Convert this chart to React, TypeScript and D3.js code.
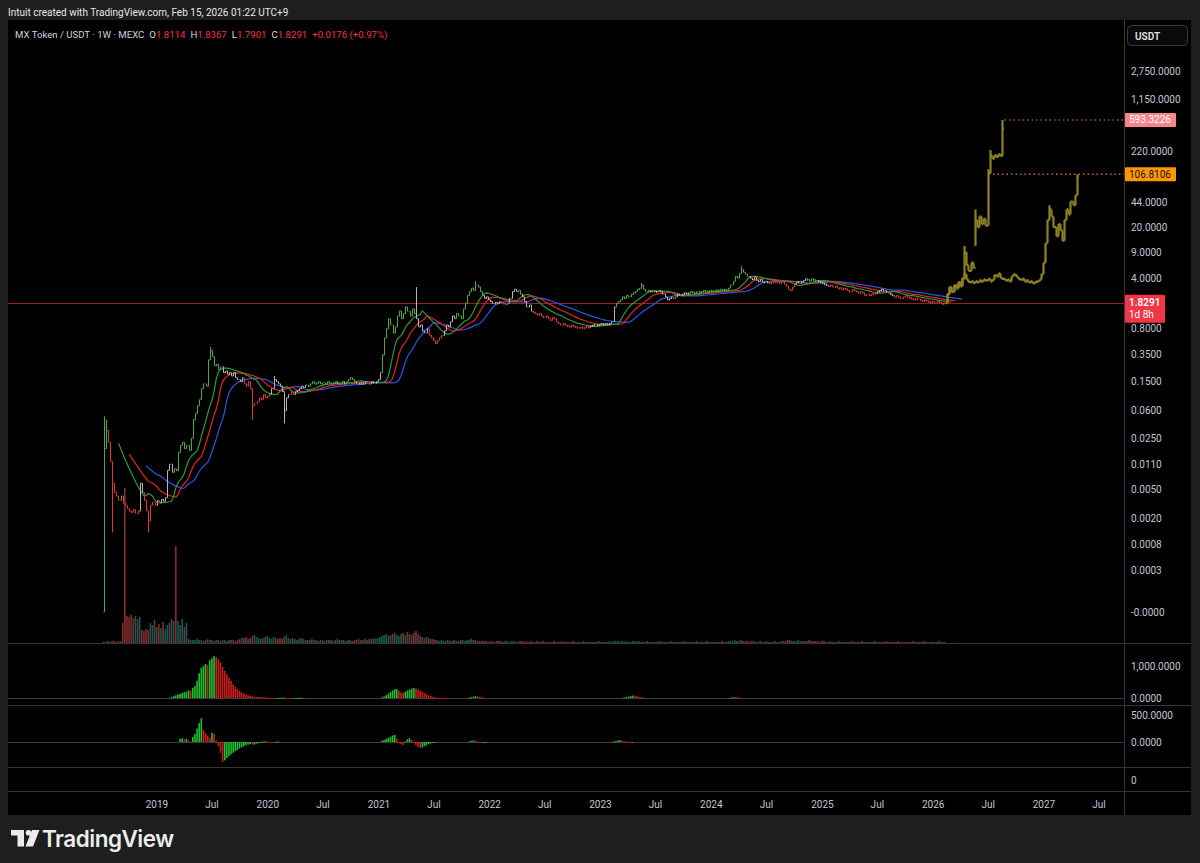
import React from "react";
import * as d3 from "d3";

// ---------- DATA ----------
const lastBarDate = "2026-02-09";
const firstOpen = 0.0001;
// weekly closes, 2018-07-09 .. 2026-02-09
const closes = [
  0.018, 0.032, 0.022, 0.012, 0.006, 0.0045, 0.004, 0.0035, 0.004, 0.0032,
  0.003, 0.0027, 0.0025, 0.0024, 0.0026, 0.0023, 0.0025, 0.006, 0.0045, 0.0035,
  0.0025, 0.0018, 0.003, 0.0033, 0.003, 0.0035, 0.0032, 0.0036, 0.0034, 0.0038,
  0.009, 0.011, 0.0085, 0.0095, 0.009, 0.016, 0.02, 0.022, 0.018, 0.02,
  0.017, 0.025, 0.045, 0.055, 0.07, 0.085, 0.12, 0.14, 0.13, 0.3,
  0.4, 0.33, 0.25, 0.26, 0.22, 0.24, 0.2, 0.21, 0.19, 0.2,
  0.18, 0.2, 0.17, 0.16, 0.15, 0.17, 0.14, 0.13, 0.15, 0.12,
  0.07, 0.075, 0.08, 0.09, 0.085, 0.1, 0.09, 0.095, 0.1, 0.12,
  0.16, 0.15, 0.14, 0.13, 0.11, 0.06, 0.09, 0.1, 0.11, 0.1,
  0.11, 0.115, 0.12, 0.13, 0.125, 0.135, 0.13, 0.14, 0.15, 0.14,
  0.145, 0.15, 0.14, 0.145, 0.14, 0.15, 0.145, 0.14, 0.145, 0.15,
  0.14, 0.145, 0.15, 0.14, 0.15, 0.16, 0.17, 0.16, 0.15, 0.145,
  0.14, 0.145, 0.14, 0.15, 0.145, 0.14, 0.15, 0.145, 0.15, 0.16,
  0.2, 0.35, 0.6, 0.8, 1.1, 0.9, 0.7, 0.85, 1.2, 1.4,
  1.1, 1.3, 1.6, 1.4, 1.2, 1.5, 1.3, 1.1, 0.85, 0.9,
  0.75, 0.7, 0.8, 0.65, 0.6, 0.55, 0.5, 0.55, 0.6, 0.65,
  0.75, 0.9, 0.85, 1.0, 1.2, 1.1, 1.3, 1.2, 1.1, 1.5,
  1.8, 2.3, 2.6, 2.9, 2.7, 3.2, 3.0, 2.6, 2.3, 2.1,
  2.2, 2.0, 1.9, 1.8, 1.85, 1.8, 1.9, 1.85, 1.8, 1.75,
  1.8, 2.1, 2.6, 2.8, 2.6, 2.7, 2.4, 2.2, 1.9, 1.6,
  1.7, 1.4, 1.35, 1.3, 1.25, 1.3, 1.2, 1.15, 1.2, 1.1,
  1.05, 1.15, 1.1, 1.0, 0.95, 0.9, 0.95, 0.9, 0.88, 0.85,
  0.9, 0.87, 0.85, 0.83, 0.85, 0.82, 0.84, 0.86, 0.85, 0.88,
  0.9, 0.92, 0.9, 0.93, 0.95, 0.92, 0.95, 0.93, 0.95, 1.0,
  1.6, 1.8, 1.9, 2.0, 2.2, 2.1, 2.3, 2.2, 2.4, 2.5,
  2.6, 2.8, 2.9, 3.2, 2.8, 2.6, 2.7, 2.6, 2.7, 2.65,
  2.6, 2.7, 2.6, 2.4, 2.2, 2.0, 2.1, 2.2, 2.1, 2.2,
  2.4, 2.3, 2.4, 2.5, 2.45, 2.5, 2.6, 2.55, 2.5, 2.6,
  2.55, 2.6, 2.7, 2.65, 2.6, 2.7, 2.65, 2.7, 2.75, 2.7,
  2.8, 2.75, 2.8, 2.7, 2.9, 3.2, 3.6, 4.2, 4.0, 4.6,
  5.2, 4.8, 4.5, 4.2, 4.0, 3.8, 4.1, 3.7, 3.6, 3.8,
  3.5, 3.6, 3.5, 3.4, 3.5, 3.6, 3.5, 3.6, 3.4, 3.5,
  3.3, 3.1, 2.8, 2.7, 3.0, 3.3, 3.5, 3.6, 3.5, 3.7,
  3.9, 3.8, 3.7, 3.9, 3.8, 3.7, 3.6, 3.5, 3.4, 3.3,
  3.2, 3.1, 3.2, 3.0, 3.1, 2.9, 2.95, 2.8, 2.9, 2.85,
  2.7, 2.6, 2.8, 2.7, 2.6, 2.5, 2.6, 2.5, 2.3, 2.4,
  2.3, 2.4, 2.5, 2.45, 2.6, 2.7, 2.8, 2.7, 2.6, 2.5,
  2.4, 2.3, 2.2, 2.3, 2.2, 2.1, 2.2, 2.3, 2.2, 2.15,
  2.1, 2.0, 2.1, 2.05, 2.0, 1.95, 2.0, 1.95, 1.9, 1.85,
  1.9, 1.85, 1.9, 1.85, 1.8, 1.8114, 1.8291,
];
const wickHigh: Record<number, number> = {
  0: 0.05, 1: 0.045, 50: 0.45, 80: 0.18, 147: 3.0, 175: 3.6, 253: 3.4, 300: 5.8, 396: 1.8367,
};
const wickLow: Record<number, number> = {
  0: 0.0001, 4: 0.0012, 21: 0.0012, 70: 0.045, 85: 0.04, 396: 1.7901,
};
const volumes = [
  1, 1, 2, 1, 2, 2, 1, 2, 2, 20,
  155, 27, 26, 28, 25, 27, 24, 26, 13, 12,
  14, 13, 20, 18, 23, 16, 19, 15, 21, 14,
  18, 20, 24, 22, 97, 22, 18, 24, 16, 20,
  4, 3, 3, 3, 4, 3, 3, 2, 3, 4,
  3, 3, 2, 3, 3, 2, 3, 3, 2, 3,
  3, 3, 2, 3, 4, 5, 5, 6, 4, 5,
  7, 8, 6, 5, 4, 5, 6, 7, 5, 4,
  6, 5, 4, 5, 4, 6, 8, 5, 4, 5,
  4, 3, 4, 5, 4, 3, 3, 3, 4, 3,
  3, 2, 3, 3, 2, 3, 3, 3, 2, 3,
  4, 3, 3, 3, 2, 3, 3, 2, 3, 3,
  4, 3, 3, 4, 3, 4, 4, 5, 4, 5,
  6, 7, 8, 9, 7, 8, 9, 10, 8, 7,
  9, 10, 8, 11, 9, 8, 10, 12, 9, 7,
  6, 5, 6, 5, 4, 4, 3, 3, 2, 3,
  2, 2, 3, 2, 2, 3, 2, 2, 3, 3,
  2, 3, 3, 4, 3, 3, 2, 2, 2, 2,
  2, 1, 2, 2, 1, 2, 2, 2, 1, 2,
  2, 1, 2, 2, 1, 1, 2, 2, 1, 2,
  1, 2, 1, 1, 2, 1, 1, 2, 1, 1,
  1, 1, 2, 1, 1, 1, 2, 1, 1, 1,
  1, 2, 1, 1, 1, 1, 2, 1, 1, 1,
  1, 1, 1, 2, 1, 1, 1, 1, 2, 1,
  2, 2, 2, 1, 2, 1, 2, 1, 1, 2,
  2, 1, 2, 1, 1, 1, 2, 1, 1, 1,
  1, 1, 2, 1, 1, 1, 1, 2, 1, 1,
  1, 1, 1, 2, 1, 1, 1, 1, 1, 2,
  1, 1, 1, 1, 2, 1, 1, 1, 1, 1,
  1, 2, 1, 1, 2, 2, 2, 3, 2, 2,
  3, 2, 2, 2, 1, 2, 2, 1, 1, 2,
  1, 1, 2, 1, 1, 1, 2, 1, 1, 2,
  2, 2, 3, 3, 2, 2, 2, 3, 2, 2,
  2, 2, 3, 2, 2, 2, 2, 1, 2, 2,
  1, 1, 2, 1, 1, 1, 2, 1, 1, 1,
  1, 1, 2, 1, 1, 1, 1, 2, 1, 1,
  1, 1, 1, 2, 1, 1, 1, 1, 2, 1,
  1, 1, 1, 1, 2, 1, 1, 1, 1, 1,
  1, 2, 1, 1, 1, 1, 2, 1, 1, 1,
  1, 1, 1, 2, 1, 1, 1,
];

// projected paths (drawn fractal), weekly from 2026-02-16
const projStartDate = "2026-02-16";
const projACloses = [2.4, 3.0, 2.6, 3.2, 2.9, 3.5, 3.1, 4.0, 9.0, 6.0, 5.0, 6.5, 5.5, 25, 20, 28, 22, 26, 21, 110, 190, 175, 195, 185, 200, 190, 450];
const projAHigh: Record<number, number> = { 8: 11, 13: 35, 19: 125, 20: 230, 26: 593.3226 };
const projALow: Record<number, number> = { 8: 3.8, 13: 11 };
const projBCloses = [
  2.4, 3.0, 2.6, 3.2, 2.9, 3.5, 3.1, 4.0, 4.5, 3.8,
  3.5, 3.6, 3.4, 3.6, 3.5, 3.7, 3.6, 3.8, 3.7, 3.9,
  3.6, 3.8, 4.4, 4.2, 4.6, 4.0, 3.9, 3.7, 3.8, 3.6,
  4.2, 4.5, 4.3, 4.0, 3.8, 3.9, 3.6, 3.7, 3.5, 3.6,
  3.4, 3.5, 3.6, 3.8, 4.5, 6.5, 12, 25, 35, 28,
  20, 15, 22, 18, 13, 25, 35, 30, 45, 40,
  55, 100,
];
const projBHigh: Record<number, number> = { 48: 40, 61: 106.8106 };

// oscillator panes (sparse segments by bar index)
const osc1Segments = [
  { start: 32, values: [30, 60, 90, 110, 140, 160, 190, 200, 250, 240, 330, 390, 560, 800, 970, 1030, 1100, 1060, 1220, 1280, 1350, 1320, 1250, 1150, 1000, 880, 760, 650, 560, 440, 360, 290, 230, 180, 140, 110, 90, 70, 55, 45, 40, 35, 30, 25, 20, 15, 10, -10, -15, -20, -10, 5, 10, 15, -5, -10, -15, -20, -15, -10, 5, 10, 8, 5] },
  { start: 131, values: [20, 50, 90, 140, 190, 240, 280, 290, 230, 180, 170, 200, 240, 270, 300, 320, 310, 280, 240, 200, 160, 120, 90, 60, 40, 25, 15, 10, 5, -5, -10] },
  { start: 172, values: [10, 25, 45, 60, 55, 40, 25, 10] },
  { start: 245, values: [10, 25, 45, 65, 80, 75, 60, 40, 25, 10] },
  { start: 295, values: [10, 20, 30, 25, 15, 5] },
];
const osc2Segments = [
  { start: 36, values: [60, 70, 50, 60, 30, -10, 90, 150, 250, 350, 440, 220, 170, 120, 80, 170, 150, 30, -80, -200, -370, -340, -300, -260, -230, -200, -170, -150, -120, -100, -80, -60, -50, -40, -50, -45, -30, -20, -10, 10, 15, 5, -5, -10, -15, -5, 10, 5] },
  { start: 131, values: [20, 40, 60, 80, 100, 120, 130, 60, -10, -40, -55, 10, 50, 70, 40, -20, -60, -90, -110, -100, -80, -60, -40, -25, -15, -5] },
  { start: 172, values: [10, 20, 30, 25, 10, -10, -20, -15, -5] },
  { start: 240, values: [10, 20, 30, 35, 25, 15, 5, -5, -10, -5] },
];

const priceTickValues = [2750, 1150, 220, 44, 20, 9, 4, 0.8, 0.35, 0.15, 0.06, 0.025, 0.011, 0.005, 0.002, 0.0008, 0.0003, 0.0001];
const priceTickLabels = ["2,750.0000", "1,150.0000", "220.0000", "44.0000", "20.0000", "9.0000", "4.0000", "0.8000", "0.3500", "0.1500", "0.0600", "0.0250", "0.0110", "0.0050", "0.0020", "0.0008", "0.0003", "-0.0000"];
const timeTickDates = ["2019-01-01", "2019-07-01", "2020-01-01", "2020-07-01", "2021-01-01", "2021-07-01", "2022-01-01", "2022-07-01", "2023-01-01", "2023-07-01", "2024-01-01", "2024-07-01", "2025-01-01", "2025-07-01", "2026-01-01", "2026-07-01", "2027-01-01", "2027-07-01"];
const timeTickLabels = ["2019", "Jul", "2020", "Jul", "2021", "Jul", "2022", "Jul", "2023", "Jul", "2024", "Jul", "2025", "Jul", "2026", "Jul", "2027", "Jul"];

const lastPrice = 1.8291;
const targetA = 593.3226;
const targetB = 106.8106;

// ---------- LAYOUT ----------
const FONT = "Roboto, 'Open Sans', 'DejaVu Sans', sans-serif";
const L = 8, R = 1191, T = 20, B = 815;
const AX = 1124; // price axis separator
const P1B = 643, P2B = 705, P3B = 767, P4B = 791;
const DAY = 86400000;

function smma(src: number[], n: number): (number | null)[] {
  const out: (number | null)[] = [];
  let prev = 0;
  for (let i = 0; i < src.length; i++) {
    if (i < n - 1) out.push(null);
    else if (i === n - 1) {
      prev = d3.mean(src.slice(0, n)) as number;
      out.push(prev);
    } else {
      prev = (prev * (n - 1) + src[i]) / n;
      out.push(prev);
    }
  }
  return out;
}

function expand(segs: { start: number; values: number[] }[]) {
  const m = new Map<number, number>();
  segs.forEach((s) => s.values.forEach((v, k) => m.set(s.start + k, v)));
  return m;
}

export default function App() {
  const n = closes.length;
  const lastT = Date.parse(lastBarDate + "T00:00:00Z");
  const dateAt = (i: number) => new Date(lastT - (n - 1 - i) * 7 * DAY);
  const opens = closes.map((c, i) => (i === 0 ? firstOpen : closes[i - 1]));
  const highs = closes.map((c, i) => wickHigh[i] ?? Math.max(c, opens[i]));
  const lows = closes.map((c, i) => wickLow[i] ?? Math.min(c, opens[i]));

  const x = d3.scaleUtc().domain([Date.UTC(2019, 0, 1), Date.UTC(2027, 0, 1)]).range([157, 1044]);
  const y = d3.scaleLog().domain([0.0001, 0.0003, 0.0008, 0.002, 4, 2750]).range([612, 570, 544, 518, 278, 71.5]);
  const vol = d3.scaleLinear().domain([0, 200]).range([P1B, P1B - 200]);
  const o1 = d3.scaleLinear().domain([0, 1000]).range([698, 667]);
  const o2 = d3.scaleLinear().domain([0, 500]).range([742, 715]);

  const xc = (d: Date) => Math.round(x(d)) + 0.5;

  // alligator
  const med = highs.map((h, i) => (h + lows[i]) / 2);
  const jaw = smma(med, 13);
  const teeth = smma(med, 8);
  const lips = smma(med, 5);
  const shifted = (arr: (number | null)[], off: number) =>
    arr.map((v, i) => ({ v, d: new Date(lastT - (n - 1 - i - off) * 7 * DAY) })).filter((p) => p.v != null) as { v: number; d: Date }[];
  const line = d3.line<{ v: number; d: Date }>().x((p) => x(p.d)).y((p) => y(p.v)).curve(d3.curveLinear);

  const lipsAt = (i: number) => (i - 3 >= 0 ? lips[i - 3] : null);
  const teethAt = (i: number) => (i - 5 >= 0 ? teeth[i - 5] : null);

  const barColor = (i: number) => {
    const c = closes[i], o = opens[i];
    const lp = lipsAt(i), tt = teethAt(i);
    if (lp == null || tt == null) return c >= o ? "#4fa845" : "#d83a34";
    if (c > lp && lp >= tt) return "#4fa845";
    if (c < lp && lp < tt) return "#d83a34";
    return "#b4b4b4";
  };

  const barPath = (cx: number, o: number, h: number, l: number, c: number, t = 1) => {
    const yh = y(h), yl = Math.max(y(l), y(h) + 2);
    return `M${cx},${yh}V${yl}M${cx - t},${y(o)}H${cx}M${cx},${y(c)}H${cx + t}`;
  };

  const projStart = Date.parse(projStartDate + "T00:00:00Z");
  const projBars = (cl: number[], hi: Record<number, number>, lo: Record<number, number>) =>
    cl.map((c, j) => {
      const o = j === 0 ? lastPrice : cl[j - 1];
      const h = hi[j] ?? Math.max(o, c);
      const l = lo[j] ?? Math.min(o, c);
      const d = new Date(projStart + j * 7 * DAY);
      return { o, h, l, c, d };
    });
  const pA = projBars(projACloses, projAHigh, projALow);
  const pB = projBars(projBCloses, projBHigh, {});

  const m1 = expand(osc1Segments);
  const m2 = expand(osc2Segments);
  const oscBars = (m: Map<number, number>, sc: d3.ScaleLinear<number, number>) =>
    Array.from(m.entries()).map(([i, v]) => {
      const prev = m.get(i - 1) ?? 0;
      const cx = x(dateAt(i));
      const y0 = sc(0), y1 = sc(v);
      return (
        <rect key={i} x={cx - 0.8} width={1.6} y={Math.min(y0, y1)} height={Math.max(1, Math.abs(y1 - y0))}
          fill={v >= prev ? "#1fbf2f" : "#c81e1e"} />
      );
    });

  const axisText = { fontFamily: FONT, fontSize: 10, fill: "#c3c6ce" } as const;
  const yLast = Math.round(y(lastPrice)) + 0.5;

  return (
    <svg width={1200} height={863} style={{ position: "fixed", left: 0, top: 0, background: "#1e1e1e" }}>
      <defs>
        <clipPath id="mainClip"><rect x={L} y={T} width={AX - L} height={P1B - T} /></clipPath>
        <clipPath id="paneClip"><rect x={L} y={P1B} width={AX - L} height={P4B - P1B} /></clipPath>
      </defs>
      <rect x={0} y={0} width={1200} height={863} fill="#1e1e1e" />
      <text x={8} y={16} fontFamily={FONT} fontSize={10} fill="#e6e6e6">
        Intuit created with TradingView.com, Feb 15, 2026 01:22 UTC+9
      </text>

      {/* chart frame */}
      <rect x={L} y={T} width={R - L} height={B - T} fill="#000" />

      {/* main pane */}
      <g clipPath="url(#mainClip)">
        {/* volume */}
        {volumes.map((v, i) => {
          const cx = x(dateAt(i));
          return (
            <rect key={"v" + i} x={cx - 0.8} width={1.6} y={vol(v)} height={P1B - vol(v)}
              fill={closes[i] >= opens[i] ? "rgba(38,166,154,0.55)" : "rgba(239,83,80,0.55)"} />
          );
        })}
        {/* last price line */}
        <line x1={L} x2={AX} y1={yLast} y2={yLast} stroke="#9c1f1f" strokeWidth={1} />
        {/* alligator */}
        <path d={line(shifted(jaw, 8)) || ""} fill="none" stroke="#2f55e8" strokeWidth={1.2} />
        <path d={line(shifted(teeth, 5)) || ""} fill="none" stroke="#e0281f" strokeWidth={1.2} />
        <path d={line(shifted(lips, 3)) || ""} fill="none" stroke="#2f9a35" strokeWidth={1.2} />
        {/* bars */}
        {closes.map((c, i) => (
          <path key={"b" + i} d={barPath(xc(dateAt(i)), opens[i], highs[i], lows[i], c)} stroke={barColor(i)} strokeWidth={1} fill="none" />
        ))}
        {/* projections */}
        {[...pB, ...pA].map((b, k) => (
          <path key={"p" + k} d={barPath(xc(b.d), b.o, b.h, b.l, b.c, 1.5)} stroke="#8c8124" strokeWidth={2.2} fill="none" />
        ))}
        {/* target dotted lines */}
        <line x1={xc(pA[pA.length - 1].d) + 2} x2={AX} y1={y(targetA)} y2={y(targetA)} stroke="#e08a2c" strokeWidth={1.2} strokeDasharray="1.5,3" />
        <line x1={xc(pA[19].d)} x2={AX} y1={y(targetB)} y2={y(targetB)} stroke="#e08a2c" strokeWidth={1.2} strokeDasharray="1.5,3" />
      </g>

      {/* lower panes */}
      <g clipPath="url(#paneClip)">
        <line x1={L} x2={AX} y1={o1(0) + 0.5} y2={o1(0) + 0.5} stroke="#3c3c3c" />
        <line x1={L} x2={AX} y1={o2(0) + 0.5} y2={o2(0) + 0.5} stroke="#3c3c3c" />
        {oscBars(m1, o1)}
        {oscBars(m2, o2)}
      </g>

      {/* separators */}
      {[P1B, P2B, P3B, P4B].map((yy) => (
        <line key={yy} x1={L} x2={R} y1={yy + 0.5} y2={yy + 0.5} stroke="#363636" />
      ))}
      <line x1={AX + 0.5} x2={AX + 0.5} y1={T} y2={B} stroke="#363636" />

      {/* legend */}
      <text x={15} y={38} fontFamily={FONT} fontSize={9.6} fill="#d1d4dc">
        MX Token / USDT · 1W · MEXC
        <tspan dx={5}>O</tspan><tspan fill="#f23645">1.8114</tspan>
        <tspan dx={5}>H</tspan><tspan fill="#f23645">1.8367</tspan>
        <tspan dx={5}>L</tspan><tspan fill="#f23645">1.7901</tspan>
        <tspan dx={5}>C</tspan><tspan fill="#f23645">1.8291</tspan>
        <tspan dx={5} fill="#f23645">+0.0176 (+0.97%)</tspan>
      </text>

      {/* price axis */}
      {priceTickValues.map((v, k) => (
        <text key={"pt" + k} x={1131} y={y(v)} dy="0.35em" {...axisText}>{priceTickLabels[k]}</text>
      ))}
      <text x={1131} y={o1(1000) - 1} dy="0.35em" {...axisText}>1,000.0000</text>
      <text x={1131} y={o1(0)} dy="0.35em" {...axisText}>0.0000</text>
      <text x={1131} y={o2(500)} dy="0.35em" {...axisText}>500.0000</text>
      <text x={1131} y={o2(0)} dy="0.35em" {...axisText}>0.0000</text>
      <text x={1131} y={(P3B + P4B) / 2 + 1} dy="0.35em" {...axisText}>0</text>

      {/* USDT box */}
      <rect x={1127.5} y={25.5} width={60} height={20} rx={4} fill="#0a0a0a" stroke="#3a3a3a" />
      <text x={1135} y={36} dy="0.35em" fontFamily={FONT} fontSize={10} fontWeight={600} fill="#e0e3eb">USDT</text>

      {/* price labels */}
      <rect x={1125} y={y(targetA) - 7} width={51} height={14} rx={1} fill="#f7868a" />
      <text x={1129} y={y(targetA)} dy="0.35em" fontFamily={FONT} fontSize={10} fill="#fff">593.3226</text>
      <rect x={1125} y={y(targetB) - 7} width={51} height={14} rx={1} fill="#ff9800" />
      <text x={1129} y={y(targetB)} dy="0.35em" fontFamily={FONT} fontSize={10} fill="#131313">106.8106</text>
      <rect x={1125} y={y(lastPrice) - 8} width={40} height={28} rx={1} fill="#f23645" />
      <text x={1129} y={y(lastPrice)} dy="0.35em" fontFamily={FONT} fontSize={10} fontWeight={600} fill="#fff">1.8291</text>
      <text x={1129} y={y(lastPrice) + 12} dy="0.35em" fontFamily={FONT} fontSize={10} fill="#fff">1d 8h</text>

      {/* time axis */}
      {timeTickDates.map((d, k) => (
        <text key={"tt" + k} x={x(new Date(d + "T00:00:00Z"))} y={(P4B + B) / 2 + 1} dy="0.35em" textAnchor="middle" {...axisText}>
          {timeTickLabels[k]}
        </text>
      ))}

      {/* TradingView logo */}
      <g fill="#ececec">
        <rect x={11} y={830} width={13} height={5.5} />
        <rect x={17.5} y={830} width={6.5} height={16.5} />
        <circle cx={28.5} cy={832.8} r={2.8} />
        <polygon points="32,830 39.5,830 33,846.5 25.5,846.5" />
        <text x={42} y={846.5} fontFamily="Inter, Roboto, sans-serif" fontSize={22.5} fontWeight={600} letterSpacing={-0.5}>TradingView</text>
      </g>
    </svg>
  );
}
